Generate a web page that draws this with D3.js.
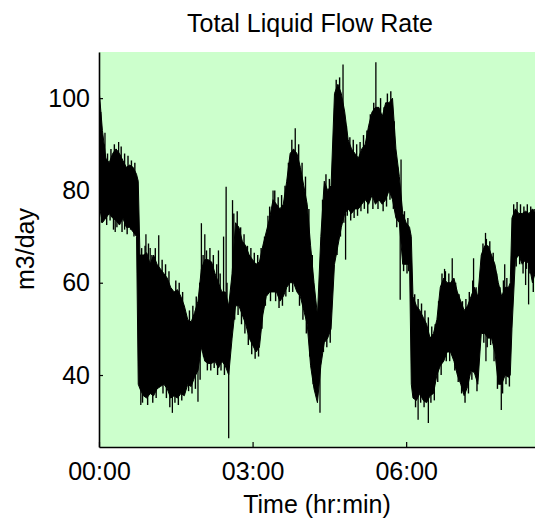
<!DOCTYPE html>
<html><head><meta charset="utf-8">
<script src="https://cdn.jsdelivr.net/npm/d3@7"></script>
<style>html,body{margin:0;padding:0;background:#fff;} svg{display:block;}</style>
</head><body>
<svg id="chart" width="535" height="518"></svg>
<script>
const chartTitle = "Total Liquid Flow Rate";
const xLabel = "Time (hr:min)";
const yLabel = "m3/day";
const xTickMinutes = [0, 180, 360];
const xTickLabels = ["00:00", "03:00", "06:00"];
const yTicks = [40, 60, 80, 100];

// sample times (minutes from 00:00) with the upper / lower edge of the noisy band
const sampleMinutes = [0,4,8,12,16,20,24,28,32,36,40,44,46,48,52,56,60,64,68,72,76,80,84,88,92,96,100,104,108,112,116,120,124,128,132,136,140,144,148,152,156,160,164,168,172,176,180,184,188,192,196,200,204,208,212,216,220,224,228,232,236,240,244,248,252,256,260,264,268,272,276,280,284,288,292,296,300,304,308,312,316,320,324,328,332,336,340,344,348,352,356,360,364,366,368,372,376,380,384,388,392,396,400,404,408,412,416,420,424,428,432,436,440,444,448,452,456,460,464,468,472,476,480,482,484,488,492,496,500,504,508,511];
const flowHigh = [102,93,87,86,88,89,88,86.5,85,85.5,85,83.5,82,66,66,66.5,64,66,64,63,62,61,59,58,58.5,57,55,52,51.5,53.5,56,63,65,65,64.5,62,60,58,58,55,62,73,72,69,68,66,65,64,64.5,68,71,74,78,77,76,77,82,88,89,88,85,81,77,68,60,53,70,82,80,81,101,103,101,97,91,89,88,87,89,90,94,97,98,98,96,99,99,100,89,83,75,73,72,70,57,55,54,52.5,51,48,49,52,59,61,60,60,61,58,56,54,55,57,59,57,66,68,68,66,64,60,57,59,59,60,74,76,75,75,75.5,75,76,75];
const flowLow = [77,73,74,75,74,73.5,72.5,74,72,72,71,70,38,37,35.5,35,36,35.5,37,37.5,38,37,35,35.5,35,36,35.5,38,37.5,39.5,41,46,43,42.5,42.5,43,41.5,43,42,40,48,55,55,53,51,48,46.5,45,46,53,57,58,58,58,56,57,59,60,60,58,57,54,51,42,37,34,42,47,48,50,64,68,72,75,76,75,76,76,77,78,77,79,77,78,77,78,80,78,74,73,64,64,64,38,35,34.5,36,34.5,34,35.5,36,40,42,43,45,45,43,40,38,35.5,37.5,41,40.5,38,49,49,48,48,45,38,38,40,39.5,40,50,65,66,64,65,64,60,62];

// isolated long spikes reaching beyond the band
const spikeMinutes = [7,19,23,30,49,55,60,70,86,116,120,124,140,146,149,152,156.5,198,204,230,259,286,289,324.5,353,354,374,386,405,414,439,453,453.5,471.5,475.5,500,503.5];
const spikeValues = [92.5,71,90.5,71.5,33.5,70.5,67.5,70.3,31.8,34.2,72.9,70.5,67,70,80.8,26.3,77.9,74.5,80,93.5,31.8,107.3,65,107.8,56.3,86.7,30.3,29.6,63,65.3,65.3,70.8,43,32.4,64,59.5,55.3];

// short spikes that make the ragged edges of the band
const edgeMinutes = [2,6,10,14,18,22,26,30,34,38,42,3,9,13,17,21,27,33,37,41,
  50,54,58,62,66,74,78,82,90,94,98,51,57,63,67,75,79,83,89,93,97,
  106,110,114,118,122,126,130,134,138,142,150,105,109,113,118.5,122.5,127,131,135,139,143,147,
  158,162,166,170,174,178,182,186,190,194,200,159,163,167,171,175,179,183,187,191,195,201,
  206,210,214,218,222,226,234,238,242,246,250,262,266,270,207,211,215,219,223,227,235,239,243,247,251,263,267,271,
  278,282,290,294,298,302,306,310,314,318,322,330,334,338,342,346,350,358,362,
  279,283,287,291,295,299,303,307,311,315,321,327,333,337,341,345,349,357,361,363,
  370,374,378,382,386,390,394,398,402,406,410,418,422,426,430,434,438,442,
  371,377,381,389,393,397,401,407,411,417,421,425,429,433,437,443,
  450,454,458,462,466,470,474,478,486,490,494,498,502,506,510,
  451,455,459,463,467,473,477,481,489,493,497,501,505,509];
const edgeValues = [97,90,88,89,90,88,89.5,88,87.5,86.5,86,73,72.5,73.5,71.5,72,71,70.5,71.5,70,
  67.5,68,68.5,66,67.5,65,64,62.5,60.5,60,58,34,33.5,34,35,36,35,33,34,33.5,34.5,
  54,55,57,60,66,67,67.5,66,64,62,60,36.5,36,37,39,44,41,41,41.5,40,41,40,
  75,75.5,72,70.5,68,67.5,66.5,66,67.5,70,76.5,52,53,51,49,46.5,44.5,43.5,44,50,55,56,
  80,78.5,79,81,86,91,90,86,83,76,66,78,83.5,82.5,56,54.5,55,57,58,58,55,52,49,44,38,45,46,47,
  104,104.5,94,91.5,91,90,90.5,92,93,96.5,99,100,98,101,101.5,95,85,75.5,74,
  66,70,73,74.5,73.5,74,74.5,75.5,76,75,76,76,75.5,76.5,78,76,72,62.5,62,62.5,
  57.5,56.5,55.5,54,52.5,50.5,51,56,62,62.5,62,60,57.5,56,56.5,58,60.5,59,
  33,34,33,34,34.5,38.5,40,43,43,41,38.5,36,34,36,39,36.5,
  68.5,69.5,69,66.5,62,59,60.5,61,77,77.5,77,76.5,77,76.5,76,
  47,46,46.5,43,37,36,38,37.5,63.5,64,62,63,62,58];

const svg = d3.select("#chart");
const font = "'Liberation Sans', Arial, Helvetica, sans-serif";
const L = 99, R = 535, T = 52, B = 447;
const x = d3.scaleLinear().domain([0, 511]).range([L, R]);
const y = d3.scaleLinear().domain([24.4, 110]).range([B, T]);

svg.append("rect").attr("x", L).attr("y", T).attr("width", R - L).attr("height", B - T).attr("fill", "#ccffcc");

svg.append("defs").append("clipPath").attr("id", "clip")
  .append("rect").attr("x", L).attr("y", T).attr("width", R - L).attr("height", B - T);

const band = sampleMinutes.map((t, i) => ({ t, hi: flowHigh[i], lo: flowLow[i] }));
const g = svg.append("g").attr("clip-path", "url(#clip)");

g.append("path").datum(band)
  .attr("d", d3.area().x(d => x(d.t)).y0(d => y(d.lo)).y1(d => y(d.hi)))
  .attr("fill", "#000").attr("stroke", "#000").attr("stroke-width", 1);

const bis = d3.bisector(d => d.t).left;
function midAt(t) {
  const i = Math.min(Math.max(bis(band, t), 1), band.length - 1);
  const a = band[i - 1], b = band[i];
  const f = Math.max(0, Math.min(1, (t - a.t) / (b.t - a.t)));
  return ((a.hi + a.lo) / 2) * (1 - f) + ((b.hi + b.lo) / 2) * f;
}
function drawSpikes(cls, ts, vs, w) {
  g.selectAll("line." + cls).data(ts.map((t, i) => ({ t, v: vs[i] })))
    .enter().append("line").attr("class", cls)
    .attr("x1", d => x(d.t)).attr("x2", d => x(d.t))
    .attr("y1", d => y(midAt(d.t))).attr("y2", d => y(d.v))
    .attr("stroke", "#000").attr("stroke-width", w);
}
drawSpikes("edge", edgeMinutes, edgeValues, 1.4);
drawSpikes("spike", spikeMinutes, spikeValues, 1.3);

const xAxis = d3.axisBottom(x).tickValues(xTickMinutes)
  .tickFormat((d, i) => xTickLabels[i]).tickSizeInner(-5).tickSizeOuter(0).tickPadding(15);
const gx = svg.append("g").attr("transform", `translate(0,${B})`).call(xAxis);
const yAxis = d3.axisLeft(y).tickValues(yTicks).tickSizeInner(-4).tickSizeOuter(0).tickPadding(9);
const gy = svg.append("g").attr("transform", `translate(${L},0)`).call(yAxis);

[gx, gy].forEach(a => {
  a.select(".domain").attr("stroke", "#000").attr("stroke-width", 1.6);
  a.selectAll(".tick line").attr("stroke", "#000").attr("stroke-width", 1.2);
  a.selectAll(".tick text").attr("fill", "#000").style("font-family", font).style("font-size", "25px");
});

svg.append("text").attr("x", 310).attr("y", 32).attr("text-anchor", "middle")
  .style("font-family", font).style("font-size", "25px").text(chartTitle);
svg.append("text").attr("x", 317).attr("y", 513).attr("text-anchor", "middle")
  .style("font-family", font).style("font-size", "25px").text(xLabel);
svg.append("text").attr("transform", "translate(34,249) rotate(-90)").attr("text-anchor", "middle")
  .style("font-family", font).style("font-size", "25px").text(yLabel);
</script>
</body></html>
